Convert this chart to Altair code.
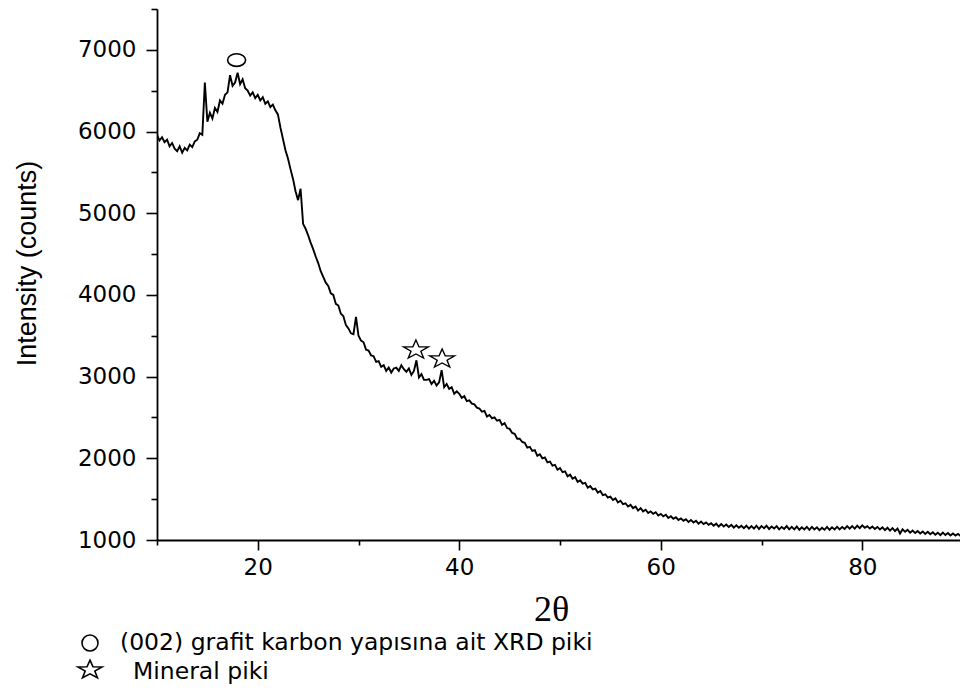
import altair as alt
import pandas as pd

# Intensity (counts), 0.25-degree steps starting at 2θ = 10
intensity = [
    5960, 5890, 5930, 5870,   # 10
    5900, 5820, 5860, 5790,   # 11
    5760, 5820, 5740, 5800,   # 12
    5770, 5840, 5810, 5880,   # 13
    5900, 5980, 5960, 6600,   # 14
    6120, 6230, 6160, 6290,   # 15
    6240, 6380, 6340, 6450,   # 16
    6480, 6690, 6560, 6600,   # 17
    6720, 6580, 6640, 6530,   # 18
    6500, 6440, 6480, 6410,   # 19
    6450, 6380, 6420, 6340,   # 20
    6370, 6300, 6330, 6260,   # 21
    6210, 6050, 5910, 5770,   # 22
    5670, 5540, 5420, 5270,   # 23
    5160, 5300, 4870, 4810,   # 24
    4730, 4640, 4560, 4470,   # 25
    4390, 4290, 4220, 4150,   # 26
    4110, 4020, 4000, 3890,   # 27
    3870, 3770, 3740, 3630,   # 28
    3590, 3530, 3520, 3730,   # 29
    3500, 3440, 3420, 3330,   # 30
    3320, 3260, 3250, 3180,   # 31
    3190, 3120, 3140, 3070,   # 32
    3110, 3050, 3100, 3110,   # 33
    3070, 3140, 3090, 3060,   # 34
    3100, 3020, 3070, 3200,   # 35
    2990, 3030, 2960, 2960,   # 36
    2970, 2910, 2950, 2890,   # 37
    2930, 3080, 2870, 2910,   # 38
    2850, 2870, 2790, 2820,   # 39
    2790, 2740, 2760, 2700,   # 40
    2710, 2670, 2660, 2620,   # 41
    2610, 2570, 2580, 2510,   # 42
    2530, 2490, 2500, 2460,   # 43
    2470, 2410, 2430, 2370,   # 44
    2360, 2310, 2300, 2240,   # 45
    2240, 2200, 2190, 2130,   # 46
    2140, 2090, 2100, 2030,   # 47
    2050, 2000, 2010, 1950,   # 48
    1960, 1910, 1920, 1860,   # 49
    1880, 1830, 1840, 1780,   # 50
    1800, 1750, 1770, 1710,   # 51
    1730, 1690, 1700, 1640,   # 52
    1660, 1620, 1630, 1580,   # 53
    1600, 1550, 1560, 1520,   # 54
    1530, 1490, 1510, 1460,   # 55
    1480, 1440, 1450, 1410,   # 56
    1430, 1390, 1410, 1360,   # 57
    1390, 1350, 1370, 1330,   # 58
    1350, 1320, 1340, 1300,   # 59
    1320, 1290, 1310, 1270,   # 60
    1290, 1260, 1280, 1245,   # 61
    1265, 1235, 1255, 1220,   # 62
    1245, 1215, 1235, 1200,   # 63
    1225, 1195, 1215, 1185,   # 64
    1205, 1175, 1200, 1165,   # 65
    1195, 1165, 1190, 1160,   # 66
    1185, 1150, 1180, 1150,   # 67
    1175, 1145, 1175, 1140,   # 68
    1170, 1140, 1175, 1135,   # 69
    1170, 1145, 1175, 1135,   # 70
    1165, 1140, 1170, 1130,   # 71
    1160, 1135, 1170, 1130,   # 72
    1160, 1130, 1165, 1125,   # 73
    1155, 1130, 1160, 1125,   # 74
    1160, 1130, 1155, 1120,   # 75
    1150, 1125, 1160, 1125,   # 76
    1155, 1130, 1160, 1130,   # 77
    1160, 1135, 1170, 1140,   # 78
    1170, 1140, 1175, 1145,   # 79
    1180, 1150, 1170, 1140,   # 80
    1165, 1135, 1160, 1130,   # 81
    1155, 1120, 1150, 1115,   # 82
    1145, 1110, 1140, 1080,   # 83
    1130, 1100, 1125, 1090,   # 84
    1115, 1085, 1110, 1080,   # 85
    1105, 1075, 1100, 1070,   # 86
    1095, 1065, 1090, 1060,   # 87
    1090, 1060, 1085, 1055,   # 88
    1080, 1055, 1075, 1050,   # 89
]
two_theta = [round(10 + 0.25 * i, 2) for i in range(len(intensity))]

# annotation markers (data coordinates)
graphite_x = [17.9]
graphite_y = [6875]
mineral_x = [35.7, 38.3]
mineral_y = [3338, 3228]

# axis ticks
x_ticks = [10, 20, 30, 40, 50, 60, 70, 80]
y_ticks = [1000, 1500, 2000, 2500, 3000, 3500, 4000, 4500, 5000, 5500, 6000, 6500, 7000, 7500]

legend_labels = ["(002) grafit karbon yapısına ait XRD piki", "Mineral piki"]

df = pd.DataFrame({"two_theta": two_theta, "intensity": intensity})
df_g = pd.DataFrame({"two_theta": graphite_x, "intensity": graphite_y})
df_m = pd.DataFrame({"two_theta": mineral_x, "intensity": mineral_y})

xscale = alt.Scale(domain=[10, 89.7], nice=False, zero=False)
yscale = alt.Scale(domain=[1000, 7500], nice=False, zero=False)

x_axis = alt.Axis(
    values=x_ticks, format="d",
    labelExpr="datum.value % 20 === 0 ? datum.label : ''",
    tickSize={"condition": {"test": "datum.value % 20 === 0", "value": 10}, "value": 5},
    labelFont="DejaVu Sans", labelFontSize=23, labelColor="black", labelPadding=6,
    labelOverlap=False, labelFlush=False,
    tickColor="black", tickWidth=1.6, domainColor="black", domainWidth=1.8, grid=False,
    title="2θ", titleFont="Liberation Serif", titleFontSize=36, titleFontWeight="normal",
    titleColor="black", titleX=394, titleY=80, titleBaseline="alphabetic", titleAlign="center",
)
y_axis = alt.Axis(
    values=y_ticks, format="d",
    labelExpr="datum.value % 1000 === 0 ? datum.label : ''",
    tickSize={"condition": {"test": "datum.value % 1000 === 0", "value": 11}, "value": 6},
    labelFont="DejaVu Sans", labelFontSize=23, labelColor="black", labelPadding=10,
    labelOverlap=False, labelFlush=False,
    tickColor="black", tickWidth=1.6, domainColor="black", domainWidth=1.8, grid=False,
    title="Intensity (counts)", titleFont="Liberation Sans", titleFontSize=27,
    titleFontWeight="normal", titleColor="black", titleX=-130, titleY=254,
    titleAngle=270, titleAlign="center", titleBaseline="middle",
)

line = alt.Chart(df).mark_line(color="black", strokeWidth=1.9, clip=True).encode(
    x=alt.X("two_theta:Q", scale=xscale, axis=x_axis),
    y=alt.Y("intensity:Q", scale=yscale, axis=y_axis),
)

ellipse_path = "M -1 0 A 1 0.7 0 1 1 1 0 A 1 0.7 0 1 1 -1 0 Z"
star_path = ("M 0 -0.905 L 0.306 -0.229 L 1.236 -0.214 L 0.494 0.219 L 0.764 0.904 "
             "L 0 0.495 L -0.764 0.904 L -0.494 0.219 L -1.236 -0.214 L -0.306 -0.229 Z")

graphite = alt.Chart(df_g).mark_point(
    shape=ellipse_path, size=324, filled=False, stroke="black", strokeWidth=1.6, opacity=1
).encode(x=alt.X("two_theta:Q", scale=xscale), y=alt.Y("intensity:Q", scale=yscale))

minerals = alt.Chart(df_m).mark_point(
    shape=star_path, size=400, filled=False, stroke="black", strokeWidth=1.4, opacity=1
).encode(x=alt.X("two_theta:Q", scale=xscale), y=alt.Y("intensity:Q", scale=yscale))

one = pd.DataFrame({"k": [0]})
leg_circle = alt.Chart(one).mark_point(
    shape="circle", size=256, filled=False, stroke="black", strokeWidth=1.6, opacity=1
).encode(x=alt.value(-67), y=alt.value(634))
leg_star = alt.Chart(one).mark_point(
    shape=star_path, size=380, filled=False, stroke="black", strokeWidth=1.6, opacity=1
).encode(x=alt.value(-67), y=alt.value(660))

leg_text1 = alt.Chart(pd.DataFrame({"label": [legend_labels[0]]})).mark_text(
    font="DejaVu Sans", fontSize=23.5, color="black", align="left", baseline="middle"
).encode(x=alt.value(-37), y=alt.value(634), text="label:N")
leg_text2 = alt.Chart(pd.DataFrame({"label": [legend_labels[1]]})).mark_text(
    font="DejaVu Sans", fontSize=23.5, color="black", align="left", baseline="middle"
).encode(x=alt.value(-24), y=alt.value(663), text="label:N")

chart = alt.layer(
    line, graphite, minerals, leg_circle, leg_star, leg_text1, leg_text2
).properties(
    width=803, height=531,
    autosize=alt.AutoSizeParams(type="none"),
    padding={"left": 157, "top": 9, "right": 0, "bottom": 146},
    background="white",
).configure_view(stroke=None)

chart.save("out.html", embed_options={"renderer": "svg", "actions": False})
